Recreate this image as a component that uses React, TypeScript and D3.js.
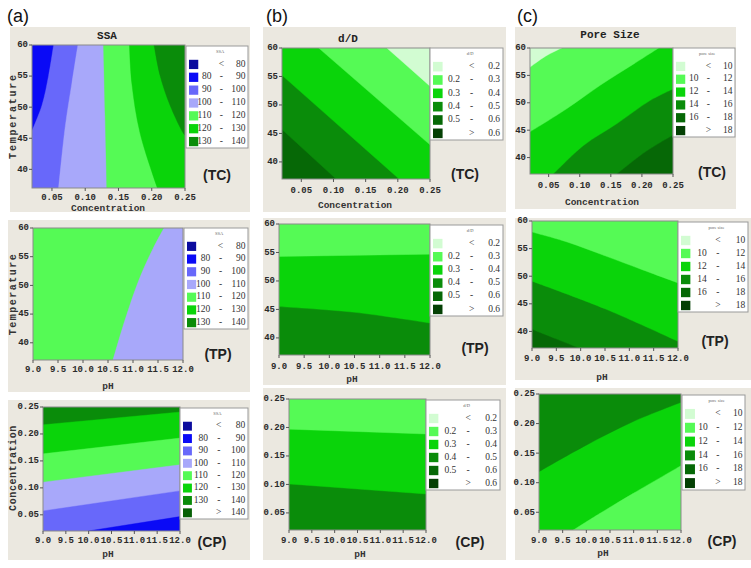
import React from "react";
import * as d3 from "d3";

type Pt = [number, number];
type Bound = { band: number; pts: Pt[]; close: Pt[] };

// axis values
const concTicks = [0.05, 0.1, 0.15, 0.2, 0.25];
const tempTicks = [40, 45, 50, 55, 60];
const phTicks = [9, 9.5, 10, 10.5, 11, 11.5, 12];
const concDomain: Pt = [0.02, 0.25];
const tempDomain: Pt = [37, 60];
const phDomain: Pt = [9, 12];

// legend classes
const ssaRows = [["", "<", "80"], ["80", "-", "90"], ["90", "-", "100"], ["100", "-", "110"], ["110", "-", "120"], ["120", "-", "130"], ["130", "-", "140"], ["", ">", "140"]];
const ddRows = [["", "<", "0.2"], ["0.2", "-", "0.3"], ["0.3", "-", "0.4"], ["0.4", "-", "0.5"], ["0.5", "-", "0.6"], ["", ">", "0.6"]];
const poreRows = [["", "<", "10"], ["10", "-", "12"], ["12", "-", "14"], ["14", "-", "16"], ["16", "-", "18"], ["", ">", "18"]];

// contour boundaries (x, y in data units)
const ssaTC: Bound[] = [
  { band: 2, pts: [[0.0525, 60], [0.045, 55.1], [0.035, 50.3], [0.02, 46.2]], close: [[0.02, 37], [0.25, 37], [0.25, 60]] },
  { band: 3, pts: [[0.089, 60], [0.08, 53.9], [0.07, 46.9], [0.06, 37]], close: [[0.25, 37], [0.25, 60]] },
  { band: 4, pts: [[0.1275, 60], [0.13, 48.5], [0.1325, 37]], close: [[0.25, 37], [0.25, 60]] },
  { band: 5, pts: [[0.1665, 60], [0.17, 53.9], [0.1825, 45.8], [0.2085, 37]], close: [[0.25, 37], [0.25, 60]] },
  { band: 6, pts: [[0.2035, 60], [0.2125, 55.1], [0.2275, 50.3], [0.2475, 45.8], [0.25, 45.5]], close: [[0.25, 60]] },
];
const ssaTP: Bound[] = [
  { band: 3, pts: [[10.6, 37], [10.83, 43.7], [11.13, 51.2], [11.4, 56.4], [11.62, 60]], close: [[12, 60], [12, 37]] },
];
const ssaCP: Bound[] = [
  { band: 5, pts: [[9, 0.2171], [12, 0.2407]], close: [[12, 0.02], [9, 0.02]] },
  { band: 4, pts: [[9, 0.1632], [12, 0.1924]], close: [[12, 0.02], [9, 0.02]] },
  { band: 3, pts: [[9, 0.1105], [12, 0.1428]], close: [[12, 0.02], [9, 0.02]] },
  { band: 2, pts: [[9, 0.0572], [12, 0.0944]], close: [[12, 0.02], [9, 0.02]] },
  { band: 1, pts: [[9.99, 0.02], [12, 0.0467]], close: [[12, 0.02]] },
];
const ddTC: Bound[] = [
  { band: 3, pts: [[0.02, 45.7], [0.104, 37]], close: [[0.25, 37], [0.25, 60], [0.02, 60]] },
  { band: 2, pts: [[0.02, 55.2], [0.202, 37]], close: [[0.25, 37], [0.25, 60], [0.02, 60]] },
  { band: 1, pts: [[0.077, 60], [0.25, 43]], close: [[0.25, 60]] },
  { band: 0, pts: [[0.183, 60], [0.25, 53.3]], close: [[0.25, 60]] },
];
const ddTP: Bound[] = [
  { band: 2, pts: [[9, 45.5], [10.5, 44.5], [12, 42.6]], close: [[12, 60], [9, 60]] },
  { band: 1, pts: [[9, 54.3], [12, 54.7]], close: [[12, 60], [9, 60]] },
];
const ddCP: Bound[] = [
  { band: 2, pts: [[9, 0.1008], [12, 0.0832]], close: [[12, 0.25], [9, 0.25]] },
  { band: 1, pts: [[9, 0.197], [12, 0.1886]], close: [[12, 0.25], [9, 0.25]] },
];
const poreTC: Bound[] = [
  { band: 3, pts: [[0.1597, 37], [0.205, 41], [0.25, 44.1]], close: [[0.25, 60], [0.02, 60], [0.02, 37]] },
  { band: 2, pts: [[0.0576, 37], [0.106, 42.2], [0.16, 46.2], [0.213, 50.4], [0.25, 52.5]], close: [[0.25, 60], [0.02, 60], [0.02, 37]] },
  { band: 1, pts: [[0.02, 44.7], [0.079, 48.9], [0.133, 53.2], [0.187, 57.1], [0.227, 60]], close: [[0.02, 60]] },
  { band: 0, pts: [[0.02, 56.5], [0.045, 58.5], [0.071, 60]], close: [[0.02, 60]] },
];
const poreTP: Bound[] = [
  { band: 3, pts: [[9, 40.4], [9.48, 38.7], [9.96, 37]], close: [[12, 37], [12, 60], [9, 60]] },
  { band: 2, pts: [[9, 49.1], [10.5, 44.1], [12, 38.2]], close: [[12, 60], [9, 60]] },
  { band: 1, pts: [[9, 58], [9.72, 56.2], [10.5, 53.7], [11.29, 51.1], [12, 48.8]], close: [[12, 60], [9, 60]] },
];
const poreCP: Bound[] = [
  { band: 3, pts: [[9, 0.1187], [9.94, 0.161], [10.99, 0.2034], [12, 0.2359]], close: [[12, 0.25], [9, 0.25]] },
  { band: 1, pts: [[9.725, 0.02], [10.289, 0.0482], [10.993, 0.082], [12, 0.1288]], close: [[12, 0.02]] },
];

const ssaColors = ["#0c0c9e", "#0a0af6", "#6868fa", "#a8a8fa", "#55fa55", "#0ad40a", "#0a8c0a", "#066006"];
const greenColors = ["#d2fcd2", "#55fa55", "#0ad40a", "#0a8c0a", "#066806", "#044004"];

const BG = "#ebe8e0";
const MONO = "'Liberation Mono', 'DejaVu Sans Mono', monospace";
const SERIF = "'Liberation Serif', 'DejaVu Serif', serif";
const SANS = "'Liberation Sans Narrow', 'Liberation Sans', Arial, sans-serif";

type PanelProps = {
  id: string;
  bg: number[];
  plot: number[];
  xDomain: Pt;
  yDomain: Pt;
  xTicks: number[];
  yTicks: number[];
  xFmt: string;
  yFmt: string;
  base: number;
  bounds: Bound[];
  colors: string[];
  rows: string[][];
  legend: number[];
  legendTitle: string;
  title?: string;
  titleAt?: Pt;
  xLabel: string;
  xLabelAt: Pt;
  yLabel?: string;
  yLabelAt?: Pt;
  yLabelSpacing?: number;
  xTickY: number;
  tag: string;
  tagAt: Pt;
};

function Panel(p: PanelProps) {
  const [px0, py0, px1, py1] = p.plot;
  const x = d3.scaleLinear().domain(p.xDomain).range([px0, px1]);
  const y = d3.scaleLinear().domain(p.yDomain).range([py1, py0]);
  const line = d3.line<Pt>().x((d) => x(d[0])).y((d) => y(d[1])).curve(d3.curveCatmullRom.alpha(0.5));
  const region = (b: Bound) => line(b.pts) + b.close.map((c) => `L${x(c[0])},${y(c[1])}`).join("") + "Z";
  const xf = d3.format(p.xFmt);
  const yf = d3.format(p.yFmt);

  const [lx0, ly0, lx1, ly1] = p.legend;
  const lw = lx1 - lx0;
  const step = (ly1 - ly0 - 12) / p.rows.length;
  const sw = step * 0.72;

  return (
    <g>
      <rect x={p.bg[0]} y={p.bg[1]} width={p.bg[2] - p.bg[0]} height={p.bg[3] - p.bg[1]} fill={BG} />
      <clipPath id={p.id}>
        <rect x={px0} y={py0} width={px1 - px0} height={py1 - py0} />
      </clipPath>
      <g clipPath={`url(#${p.id})`}>
        <rect x={px0} y={py0} width={px1 - px0} height={py1 - py0} fill={p.colors[p.base]} />
        {p.bounds.map((b, i) => (
          <path key={i} d={region(b)} fill={p.colors[b.band]} stroke={p.colors[b.band]} strokeWidth={0.4} />
        ))}
      </g>
      <rect x={px0} y={py0} width={px1 - px0} height={py1 - py0} fill="none" stroke="#8a8a8a" strokeWidth={1} />
      {p.xTicks.map((t) => (
        <g key={"x" + t}>
          <line x1={x(t)} x2={x(t)} y1={py1} y2={py1 + 3} stroke="#555" />
          <text x={x(t)} y={p.xTickY} textAnchor="middle" dominantBaseline="middle" fontFamily={MONO} fontSize={9} fontWeight="bold" fill="#2a2a2a">
            {xf(t)}
          </text>
        </g>
      ))}
      {p.yTicks.map((t) => (
        <g key={"y" + t}>
          <line x1={px0 - 3} x2={px0} y1={y(t)} y2={y(t)} stroke="#555" />
          <text x={px0 - 4} y={y(t)} textAnchor="end" dominantBaseline="middle" fontFamily={MONO} fontSize={9} fontWeight="bold" fill="#2a2a2a">
            {yf(t)}
          </text>
        </g>
      ))}
      {p.title && p.titleAt && (
        <text x={p.titleAt[0]} y={p.titleAt[1]} textAnchor="middle" dominantBaseline="middle" fontFamily={MONO} fontWeight="bold" fontSize={11} fill="#222">
          {p.title}
        </text>
      )}
      <text x={p.xLabelAt[0]} y={p.xLabelAt[1]} textAnchor="middle" dominantBaseline="middle" fontFamily={MONO} fontSize={9.5} fontWeight="bold" fill="#333">
        {p.xLabel}
      </text>
      {p.yLabel && p.yLabelAt && (
        <text
          transform={`translate(${p.yLabelAt[0]},${p.yLabelAt[1]}) rotate(-90)`}
          textAnchor="middle"
          dominantBaseline="middle"
          fontFamily={MONO}
          fontSize={10}
          fontWeight="bold"
          letterSpacing={p.yLabelSpacing ?? 0}
          fill="#333"
        >
          {p.yLabel}
        </text>
      )}
      <text x={p.tagAt[0]} y={p.tagAt[1]} textAnchor="middle" dominantBaseline="middle" fontFamily={SANS} fontSize={14} fontWeight="bold" fill="#222">
        {p.tag}
      </text>
      <rect x={lx0} y={ly0} width={lw} height={ly1 - ly0} fill="#fff" stroke="#999" strokeWidth={1} />
      <text x={lx0 + lw * 0.55} y={ly0 + 6} textAnchor="middle" dominantBaseline="middle" fontFamily={SERIF} fontSize={4.5} fill="#666">
        {p.legendTitle}
      </text>
      {p.rows.map((r, i) => {
        const cy = ly0 + 12 + step * (i + 0.5);
        return (
          <g key={"l" + i}>
            <rect x={lx0 + 3} y={cy - sw / 2} width={sw} height={sw} fill={p.colors[i]} />
            <text x={lx0 + lw * 0.41} y={cy} textAnchor="end" dominantBaseline="middle" fontFamily={SERIF} fontSize={9.5} fill="#333">
              {r[0]}
            </text>
            <text x={lx0 + lw * 0.57} y={cy} textAnchor="middle" dominantBaseline="middle" fontFamily={SERIF} fontSize={9.5} fill="#333">
              {r[1]}
            </text>
            <text x={lx0 + lw * 0.96} y={cy} textAnchor="end" dominantBaseline="middle" fontFamily={SERIF} fontSize={9.5} fill="#333">
              {r[2]}
            </text>
          </g>
        );
      })}
    </g>
  );
}

export default function App() {
  const tc = { xDomain: concDomain, yDomain: tempDomain, xTicks: concTicks, yTicks: tempTicks, xFmt: ".2f", yFmt: "d", xLabel: "Concentration" };
  const tp = { xDomain: phDomain, yDomain: tempDomain, xTicks: phTicks, yTicks: tempTicks, xFmt: ".1f", yFmt: "d", xLabel: "pH" };
  const cp = { xDomain: phDomain, yDomain: concDomain, xTicks: phTicks, yTicks: concTicks, xFmt: ".1f", yFmt: ".2f", xLabel: "pH" };
  const ssa = { colors: ssaColors, legendTitle: "SSA" };
  const dd = { colors: greenColors, rows: ddRows, legendTitle: "d/D" };
  const pore = { colors: greenColors, rows: poreRows, legendTitle: "pore size" };

  return (
    <svg width={751} height={568} style={{ position: "absolute", left: 0, top: 0, background: "#fff" }}>
      <rect width={751} height={568} fill="#fff" />
      <text x={7} y={22} fontFamily="'Liberation Sans', Arial, sans-serif" fontSize={18} fill="#111">(a)</text>
      <text x={266} y={22} fontFamily="'Liberation Sans', Arial, sans-serif" fontSize={18} fill="#111">(b)</text>
      <text x={517} y={22} fontFamily="'Liberation Sans', Arial, sans-serif" fontSize={18} fill="#111">(c)</text>

      <Panel id="a1" {...tc} {...ssa} rows={ssaRows.slice(0, 7)} bg={[10, 27, 250, 212]} plot={[32, 45, 185, 188]} base={1} bounds={ssaTC}
        legend={[186, 46, 248, 148]} title="SSA" titleAt={[107, 36]} xLabelAt={[108, 208]} yLabel="Temperature" yLabelAt={[13, 116]} yLabelSpacing={1.8}
        xTickY={198} tag="(TC)" tagAt={[217, 176]} />
      <Panel id="a2" {...tp} {...ssa} rows={ssaRows.slice(0, 7)} bg={[8, 220, 250, 392]} plot={[33, 228, 183, 360]} base={4} bounds={ssaTP}
        legend={[184, 228, 248, 329]} xLabelAt={[108, 386]} yLabel="Temperature" yLabelAt={[13, 294]} yLabelSpacing={1.5}
        xTickY={370} tag="(TP)" tagAt={[218, 355]} />
      <Panel id="a3" {...cp} {...ssa} rows={ssaRows} bg={[8, 400, 250, 560]} plot={[43, 407, 180, 531]} base={6} bounds={ssaCP}
        legend={[180, 408, 248, 519]} xLabelAt={[108, 554]} yLabel="Concentration" yLabelAt={[13, 468]} yLabelSpacing={0.6}
        xTickY={541} tag="(CP)" tagAt={[212, 543]} />

      <Panel id="b1" {...tc} {...dd} bg={[263, 27, 506, 212]} plot={[282, 48, 430, 179]} base={4} bounds={ddTC}
        legend={[430, 48, 503, 140]} title="d/D" titleAt={[348, 39]} xLabelAt={[355, 205]} xTickY={191} tag="(TC)" tagAt={[465, 175]} />
      <Panel id="b2" {...tp} {...dd} bg={[263, 218, 506, 385]} plot={[279, 224, 430, 355]} base={3} bounds={ddTP}
        legend={[430, 225, 503, 316]} xLabelAt={[352, 379]} xTickY={367} tag="(TP)" tagAt={[475, 349]} />
      <Panel id="b3" {...cp} {...dd} bg={[263, 388, 506, 560]} plot={[289, 399, 426, 530]} base={3} bounds={ddCP}
        legend={[426, 400, 500, 490]} xLabelAt={[360, 554]} xTickY={541} tag="(CP)" tagAt={[470, 543]} />

      <Panel id="c1" {...tc} {...pore} bg={[515, 27, 736, 209]} plot={[530, 48, 673, 174]} base={4} bounds={poreTC}
        legend={[673, 48, 735, 137]} title="Pore Size" titleAt={[610, 35]} xLabelAt={[602, 202]} xTickY={186} tag="(TC)" tagAt={[712, 173]} />
      <Panel id="c2" {...tp} {...pore} bg={[515, 218, 751, 380]} plot={[532, 221, 678, 348]} base={4} bounds={poreTP}
        legend={[678, 222, 748, 312]} xLabelAt={[602, 377]} xTickY={359} tag="(TP)" tagAt={[715, 342]} />
      <Panel id="c3" {...cp} {...pore} bg={[515, 388, 751, 560]} plot={[539, 394, 681, 530]} base={2} bounds={poreCP}
        legend={[682, 395, 745, 490]} xLabelAt={[603, 553]} xTickY={541} tag="(CP)" tagAt={[722, 542]} />
    </svg>
  );
}
